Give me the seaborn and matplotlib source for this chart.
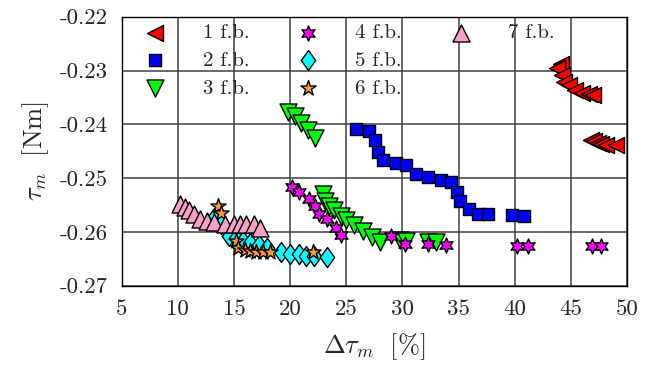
import numpy as np
import pandas as pd
import matplotlib
matplotlib.use("Agg")
import matplotlib.pyplot as plt
from matplotlib.lines import Line2D
import seaborn as sns

# ---- data ----
x1 = [44.1, 43.8, 44.2, 44.4, 44.8, 45.4, 46.0, 46.6, 47.0,
      46.8, 47.1, 47.4, 47.7, 48.1, 49.0]
y1 = [-0.2287, -0.2296, -0.2309, -0.2321, -0.2327, -0.2336, -0.2341, -0.2344, -0.2345,
      -0.2429, -0.2431, -0.2434, -0.2436, -0.2439, -0.2439]

x2 = [25.9, 27.0, 27.6, 27.8, 28.3, 29.4, 30.3, 31.2, 32.3, 33.4, 34.3, 34.9,
      35.1, 35.9, 36.7, 37.6, 39.8, 40.8]
y2 = [-0.2408, -0.2413, -0.2430, -0.2452, -0.2467, -0.2472, -0.2476, -0.2492,
      -0.2498, -0.2504, -0.2508, -0.2526, -0.2542, -0.2558, -0.2567, -0.2567,
      -0.2569, -0.2571]

x3 = [19.8, 20.4, 21.0, 21.6, 22.2,
      22.9, 23.1, 23.5, 23.9, 24.5, 25.0, 25.7, 26.5, 27.3, 28.0, 29.8, 30.3, 32.3, 33.0]
y3 = [-0.2378, -0.2385, -0.2398, -0.2410, -0.2425,
      -0.2530, -0.2542, -0.2552, -0.2560, -0.2570, -0.2577, -0.2588, -0.2598,
      -0.2610, -0.2618, -0.2615, -0.2617, -0.2618, -0.2618]

x4 = [20.2, 20.8, 21.7, 22.2, 22.6, 23.3, 24.1, 24.5, 29.0, 30.2, 32.3, 33.9,
      40.2, 41.2, 46.9, 47.7]
y4 = [-0.2517, -0.2526, -0.2539, -0.2551, -0.2567, -0.2576, -0.2592, -0.2606,
      -0.2607, -0.2622, -0.2623, -0.2624, -0.2626, -0.2626, -0.2626, -0.2626]

x5 = [13.2, 13.8, 14.6, 15.2, 15.8, 16.4, 17.2, 17.9, 19.2, 20.0, 20.8, 21.4, 22.1, 23.3]
y5 = [-0.2575, -0.2585, -0.2608, -0.2612, -0.2616, -0.2620, -0.2625, -0.2630,
      -0.2638, -0.2641, -0.2642, -0.2644, -0.2645, -0.2647]

x6 = [13.6, 13.8, 15.2, 15.4, 16.0, 16.4, 17.0, 17.6, 18.2, 22.0]
y6 = [-0.2552, -0.2564, -0.2616, -0.2630, -0.2633, -0.2635, -0.2637, -0.2638,
      -0.2638, -0.2638]

x7 = [10.2, 10.6, 11.0, 11.4, 12.0, 12.6, 13.2, 14.2, 15.0, 15.5, 16.1, 16.8, 17.3]
y7 = [-0.2548, -0.2553, -0.2560, -0.2567, -0.2576, -0.2580, -0.2582, -0.2585,
      -0.2585, -0.2586, -0.2585, -0.2586, -0.2592]

labels = ["1 f.b.", "2 f.b.", "3 f.b.", "4 f.b.", "5 f.b.", "6 f.b.", "7 f.b."]
xticks = [5, 10, 15, 20, 25, 30, 35, 40, 45, 50]
xtick_labels = ["5", "10", "15", "20", "25", "30", "35", "40", "45", "50"]
yticks = [-0.27, -0.26, -0.25, -0.24, -0.23, -0.22]
ytick_labels = ["-0.27", "-0.26", "-0.25", "-0.24", "-0.23", "-0.22"]

# ---- styles ----
colors = ["#ff0000", "#0000ff", "#00ff00", "#ff00ff", "#00ffff", "#ff9933", "#f7a1c8"]
diamond = [(0, 1), (0.72, 0), (0, -1), (-0.72, 0), (0, 1)]
markers = ["<", "s", "v", (6, 1, 0), diamond, "*", "^"]
size_px = [16, 12, 17, 15, 20, 16, 17]

sns.set_style("white")
plt.rcParams.update({
    "font.family": ["cmr10", "DejaVu Serif"],
    "mathtext.fontset": "cm",
    "axes.unicode_minus": False,
    "axes.formatter.use_mathtext": False,
})

fig = plt.figure(figsize=(6.59, 3.69), dpi=100)
W, H = 659, 369
L, R, T, B = 121.7, 627.0, 16.7, 285.7
ax = fig.add_axes([L / W, 1 - B / H, (R - L) / W, (B - T) / H])

xs_all = [x1, x2, x3, x4, x5, x6, x7]
ys_all = [y1, y2, y3, y4, y5, y6, y7]
df = pd.concat([pd.DataFrame({"x": xs, "y": ys, "series": lab})
                for xs, ys, lab in zip(xs_all, ys_all, labels)], ignore_index=True)

for i, lab in enumerate(labels):
    sub = df[df["series"] == lab]
    s = (size_px[i] * 0.72) ** 2
    sns.scatterplot(data=sub, x="x", y="y", marker=markers[i], s=s,
                    color=colors[i], edgecolor="black", linewidth=1.0,
                    ax=ax, label=lab, zorder=3, legend=False)

ax.set_xlim(5, 50)
ax.set_ylim(-0.27, -0.22)
ax.set_xticks(xticks, labels=xtick_labels)
ax.set_yticks(yticks, labels=ytick_labels)
ax.grid(True, color="#404040", linewidth=1.1, zorder=0)
ax.set_axisbelow(True)
for sp in ax.spines.values():
    sp.set_color("black")
    sp.set_linewidth(1.0)
ax.tick_params(axis="both", direction="in", length=0, labelsize=16.5, pad=10)

ax.set_xlabel(r"$\Delta\tau_m\ \ [\%]$", fontsize=19, labelpad=9)
ax.set_ylabel(r"$\tau_m\ \ [\mathrm{Nm}]$", fontsize=19, labelpad=6)

handles, labs = ax.get_legend_handles_labels()
blank = Line2D([], [], linestyle="none", marker=None)
handles = handles + [blank, blank]
labs = labs + ["", ""]
leg = ax.legend(handles, labs, ncol=3, frameon=False, loc="upper left",
                bbox_to_anchor=(0.024, 0.975), borderaxespad=0, borderpad=0,
                fontsize=15, handlelength=2.0, handletextpad=1.3,
                columnspacing=1.8, labelspacing=0.45, scatterpoints=1)

fig.savefig("out.png", dpi=100)
